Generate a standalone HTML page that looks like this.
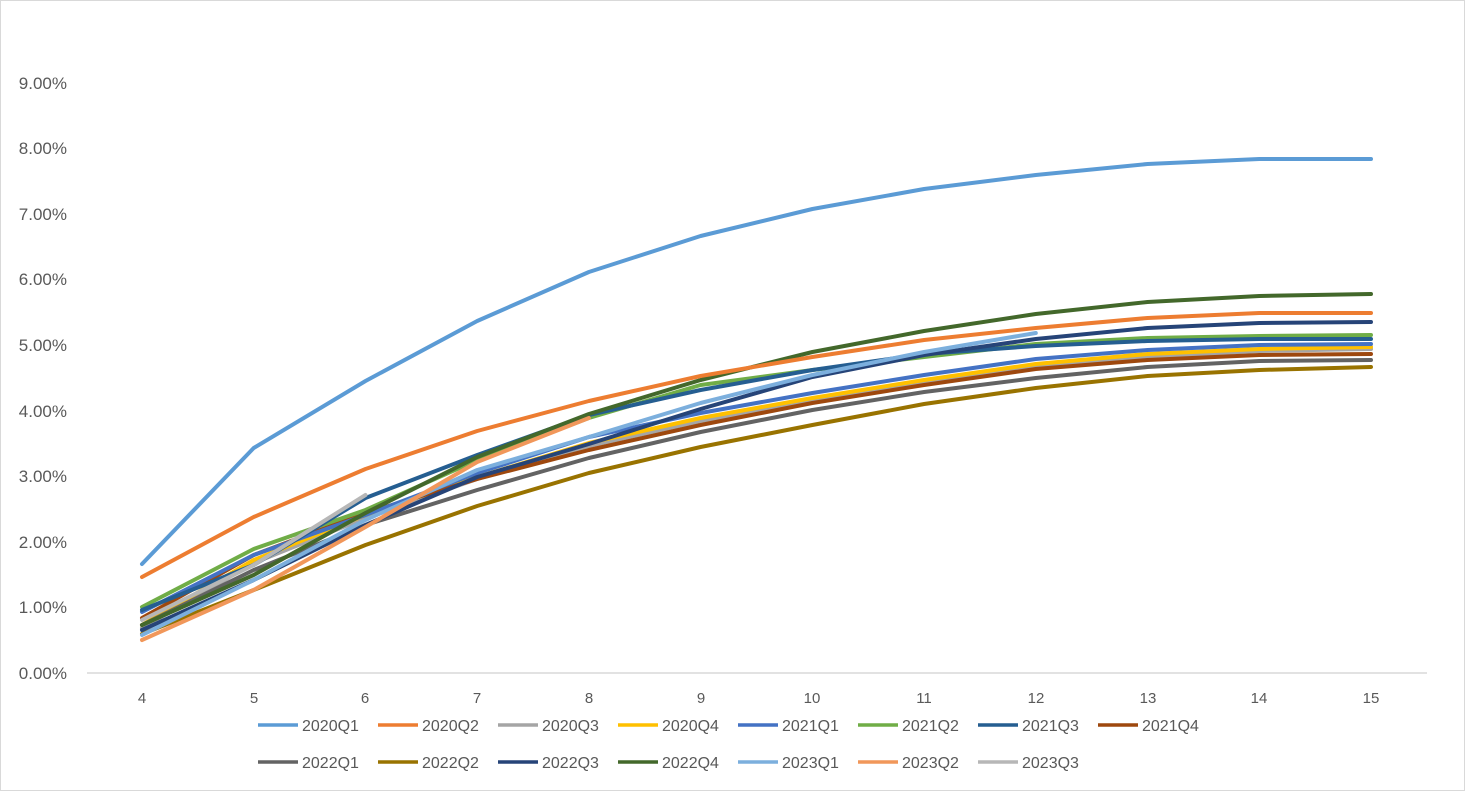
<!DOCTYPE html><html><head><style>body{margin:0;background:#fff}svg{display:block}text{font-family:"Liberation Sans",sans-serif;fill:#595959}</style></head><body>
<svg width="1465" height="791" viewBox="0 0 1465 791">
<rect x="0.5" y="0.5" width="1464" height="790" fill="#fff" stroke="#d9d9d9"/>
<line x1="87" y1="673" x2="1427" y2="673" stroke="#d9d9d9" stroke-width="1.5"/>
<g font-size="17" text-anchor="end">
<text x="67" y="679">0.00%</text><text x="67" y="613">1.00%</text><text x="67" y="548">2.00%</text><text x="67" y="482">3.00%</text><text x="67" y="417">4.00%</text><text x="67" y="351">5.00%</text><text x="67" y="285">6.00%</text><text x="67" y="220">7.00%</text><text x="67" y="154">8.00%</text><text x="67" y="89">9.00%</text>
</g>
<g font-size="15" text-anchor="middle">
<text x="142" y="703">4</text><text x="254" y="703">5</text><text x="365" y="703">6</text><text x="477" y="703">7</text><text x="589" y="703">8</text><text x="701" y="703">9</text><text x="812" y="703">10</text><text x="924" y="703">11</text><text x="1036" y="703">12</text><text x="1148" y="703">13</text><text x="1259" y="703">14</text><text x="1371" y="703">15</text>
</g>
<g fill="none" stroke-width="4" stroke-linejoin="round" stroke-linecap="round">
<polyline stroke="#A5A5A5" points="142,628 253.7,563 365.5,518 477.2,479 588.9,446 700.6,421 812.4,401 924.1,383 1035.8,367 1147.5,357 1259.3,351 1371,349"/>
<polyline stroke="#FFC000" points="142,625 253.7,560 365.5,515 477.2,477 588.9,443 700.6,418 812.4,398 924.1,380 1035.8,364 1147.5,354 1259.3,349 1371,347"/>
<polyline stroke="#9E480E" points="142,618 253.7,555 365.5,513 477.2,479 588.9,450 700.6,425 812.4,403 924.1,385 1035.8,369 1147.5,360 1259.3,355 1371,354"/>
<polyline stroke="#636363" points="142,625 253.7,570 365.5,525 477.2,490 588.9,458 700.6,432 812.4,410 924.1,392 1035.8,378 1147.5,367 1259.3,361 1371,360"/>
<polyline stroke="#997300" points="142,634 253.7,590 365.5,545 477.2,506 588.9,473 700.6,447 812.4,425 924.1,404 1035.8,388 1147.5,376 1259.3,370 1371,367"/>
<polyline stroke="#4472C4" points="142,612 253.7,555 365.5,515 477.2,473 588.9,437 700.6,413 812.4,393 924.1,375 1035.8,359 1147.5,350 1259.3,345 1371,344"/>
<polyline stroke="#70AD47" points="142,607 253.7,549 365.5,510 477.2,460 588.9,418 700.6,385 812.4,370 924.1,357 1035.8,344 1147.5,338 1259.3,336 1371,335"/>
<polyline stroke="#255E91" points="142,610 253.7,565 365.5,498 477.2,455 588.9,415 700.6,390 812.4,370 924.1,354 1035.8,346 1147.5,341 1259.3,339 1371,339"/>
<polyline stroke="#264478" points="142,630 253.7,580 365.5,525 477.2,477 588.9,444 700.6,409 812.4,377 924.1,355 1035.8,339 1147.5,328 1259.3,323 1371,322"/>
<polyline stroke="#43682B" points="142,625 253.7,575 365.5,513 477.2,457 588.9,414 700.6,380 812.4,352 924.1,331 1035.8,314 1147.5,302 1259.3,296 1371,294"/>
<polyline stroke="#7CAFDD" points="142,635 253.7,580 365.5,520 477.2,470 588.9,437 700.6,403 812.4,375 924.1,352 1035.8,333"/>
<polyline stroke="#F1975A" points="142,640 253.7,590 365.5,527 477.2,462 588.9,418"/>
<polyline stroke="#B7B7B7" points="142,620 253.7,565 365.5,495"/>
<polyline stroke="#ED7D31" points="142,577 253.7,517 365.5,469 477.2,431 588.9,401 700.6,376 812.4,357 924.1,340 1035.8,328 1147.5,318 1259.3,313 1371,313"/>
<polyline stroke="#5B9BD5" points="142,564 253.7,448 365.5,381 477.2,321 588.9,272 700.6,236 812.4,209 924.1,189 1035.8,175 1147.5,164 1259.3,159 1371,159"/>
</g>
<g stroke-width="3.5" font-size="16">
<line x1="258" y1="725" x2="298" y2="725" stroke="#5B9BD5"/><text x="302" y="731">2020Q1</text>
<line x1="378" y1="725" x2="418" y2="725" stroke="#ED7D31"/><text x="422" y="731">2020Q2</text>
<line x1="498" y1="725" x2="538" y2="725" stroke="#A5A5A5"/><text x="542" y="731">2020Q3</text>
<line x1="618" y1="725" x2="658" y2="725" stroke="#FFC000"/><text x="662" y="731">2020Q4</text>
<line x1="738" y1="725" x2="778" y2="725" stroke="#4472C4"/><text x="782" y="731">2021Q1</text>
<line x1="858" y1="725" x2="898" y2="725" stroke="#70AD47"/><text x="902" y="731">2021Q2</text>
<line x1="978" y1="725" x2="1018" y2="725" stroke="#255E91"/><text x="1022" y="731">2021Q3</text>
<line x1="1098" y1="725" x2="1138" y2="725" stroke="#9E480E"/><text x="1142" y="731">2021Q4</text>
<line x1="258" y1="762" x2="298" y2="762" stroke="#636363"/><text x="302" y="768">2022Q1</text>
<line x1="378" y1="762" x2="418" y2="762" stroke="#997300"/><text x="422" y="768">2022Q2</text>
<line x1="498" y1="762" x2="538" y2="762" stroke="#264478"/><text x="542" y="768">2022Q3</text>
<line x1="618" y1="762" x2="658" y2="762" stroke="#43682B"/><text x="662" y="768">2022Q4</text>
<line x1="738" y1="762" x2="778" y2="762" stroke="#7CAFDD"/><text x="782" y="768">2023Q1</text>
<line x1="858" y1="762" x2="898" y2="762" stroke="#F1975A"/><text x="902" y="768">2023Q2</text>
<line x1="978" y1="762" x2="1018" y2="762" stroke="#B7B7B7"/><text x="1022" y="768">2023Q3</text>
</g>
</svg></body></html>
